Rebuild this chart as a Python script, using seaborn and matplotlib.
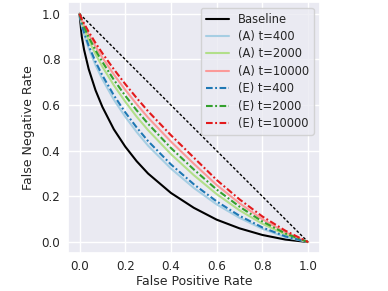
import matplotlib
matplotlib.use("Agg")
import matplotlib.pyplot as plt
import seaborn as sns

fpr = [0.0, 0.01, 0.02, 0.04, 0.07, 0.1, 0.15, 0.2, 0.25, 0.3, 0.4, 0.5, 0.6, 0.7, 0.8, 0.9, 1.0]

# false negative rate of each curve at those points
baseline = [1.0, 0.899, 0.842, 0.758, 0.665, 0.592, 0.494, 0.418, 0.354, 0.300, 0.215, 0.150, 0.098, 0.060, 0.031, 0.011, 0.0]
a_t400 = [1.0, 0.946, 0.909, 0.849, 0.775, 0.713, 0.624, 0.549, 0.482, 0.422, 0.322, 0.237, 0.165, 0.106, 0.058, 0.022, 0.0]
a_t2000 = [1.0, 0.962, 0.934, 0.885, 0.823, 0.768, 0.687, 0.615, 0.549, 0.490, 0.385, 0.293, 0.210, 0.139, 0.080, 0.033, 0.0]
a_t10000 = [1.0, 0.972, 0.950, 0.910, 0.857, 0.808, 0.734, 0.667, 0.604, 0.545, 0.440, 0.343, 0.250, 0.170, 0.100, 0.043, 0.0]
e_t400 = [1.0, 0.951, 0.917, 0.860, 0.790, 0.730, 0.643, 0.568, 0.502, 0.442, 0.340, 0.253, 0.178, 0.115, 0.064, 0.025, 0.0]
e_t2000 = [1.0, 0.968, 0.942, 0.898, 0.840, 0.789, 0.711, 0.641, 0.577, 0.518, 0.412, 0.318, 0.230, 0.155, 0.090, 0.038, 0.0]
e_t10000 = [1.0, 0.976, 0.957, 0.921, 0.872, 0.827, 0.757, 0.692, 0.631, 0.573, 0.468, 0.370, 0.272, 0.187, 0.112, 0.050, 0.0]

# random-guess diagonal
diag_x = [0.0, 1.0]
diag_y = [1.0, 0.0]

sns.set_theme(style="darkgrid")
pal = sns.color_palette("Paired")

# short dashes, the original was drawn bigger and shrunk
guion_punto = (0, (3.2, 1.2, 0.9, 1.2))
guion_corto = (0, (2.0, 1.4))

fig = plt.figure(figsize=(3.88, 2.91), dpi=100)
ax = fig.add_axes([0.1755, 0.129, 0.648, 0.863])

sns.lineplot(x=diag_x, y=diag_y, color="black", linestyle=guion_corto, linewidth=1, ax=ax)

curvas = [
    (baseline, "Baseline", "black", "-"),
    (a_t400, "(A) t=400", pal[0], "-"),
    (a_t2000, "(A) t=2000", pal[2], "-"),
    (a_t10000, "(A) t=10000", pal[4], "-"),
    (e_t400, "(E) t=400", pal[1], guion_punto),
    (e_t2000, "(E) t=2000", pal[3], guion_punto),
    (e_t10000, "(E) t=10000", pal[5], guion_punto),
]
for valores, nombre, color, estilo in curvas:
    sns.lineplot(x=fpr, y=valores, label=nombre, color=color,
                 linestyle=estilo, linewidth=1.5, ax=ax)

ax.set_xticks([0.0, 0.2, 0.4, 0.6, 0.8, 1.0])
ax.set_yticks([0.0, 0.2, 0.4, 0.6, 0.8, 1.0])
ax.set_xlabel("False Positive Rate", fontsize=9, labelpad=1)
ax.set_ylabel("False Negative Rate", fontsize=9, labelpad=5)
ax.tick_params(axis="x", labelsize=8.6, length=0, pad=4.8)
ax.tick_params(axis="y", labelsize=8.6, length=0, pad=5.5)
ax.legend(loc="upper right", fontsize=8.3, labelspacing=0.38)

fig.savefig("out.png", dpi=100)
